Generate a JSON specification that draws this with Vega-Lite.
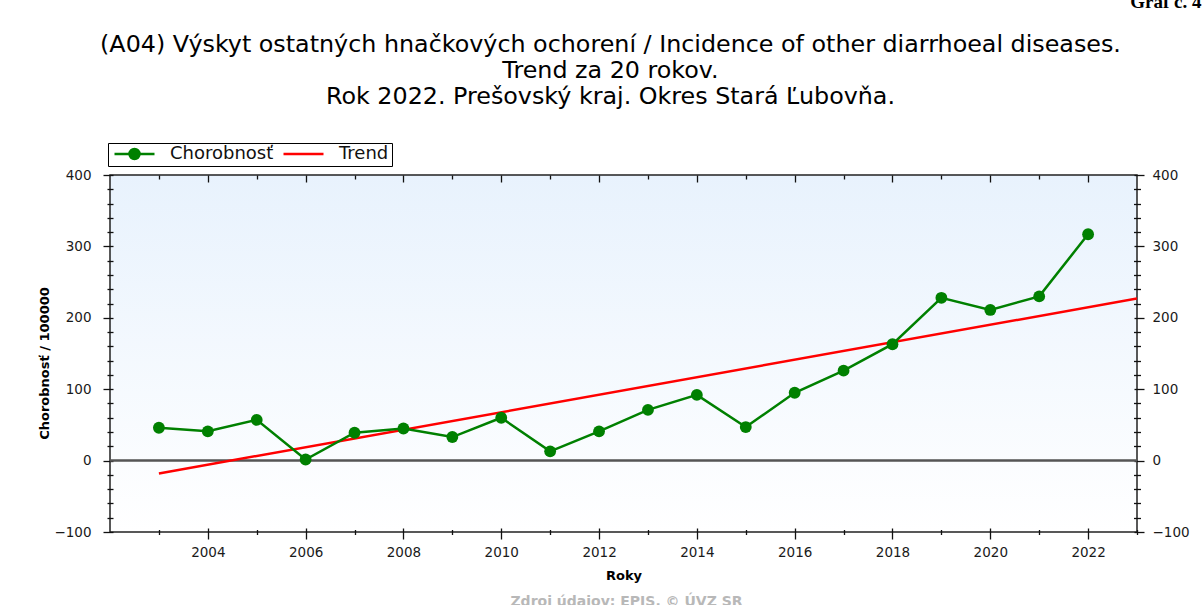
{
  "$schema": "https://vega.github.io/schema/vega-lite/v6.json",
  "width": 1027,
  "height": 357,
  "autosize": "none",
  "padding": {"left": 110, "top": 175, "right": 66, "bottom": 73},
  "background": "#ffffff",
  "title": {
    "text": ["(A04) Výskyt ostatných hnačkových ochorení / Incidence of other diarrhoeal diseases.", "Trend za 20 rokov.", "Rok 2022. Prešovský kraj. Okres Stará Ľubovňa."],
    "font": "DejaVu Sans",
    "fontSize": 23.8,
    "fontWeight": "normal",
    "color": "#000000",
    "lineHeight": 26,
    "anchor": "middle",
    "frame": "group",
    "baseline": "top",
    "offset": 0,
    "dx": -13,
    "dy": 117
  },
  "datasets": {
    "incidence": [
      {"year": 2003, "value": 46, "series": "Chorobnosť"},
      {"year": 2004, "value": 41, "series": "Chorobnosť"},
      {"year": 2005, "value": 57, "series": "Chorobnosť"},
      {"year": 2006, "value": 1.5, "series": "Chorobnosť"},
      {"year": 2007, "value": 39, "series": "Chorobnosť"},
      {"year": 2008, "value": 45, "series": "Chorobnosť"},
      {"year": 2009, "value": 33, "series": "Chorobnosť"},
      {"year": 2010, "value": 60, "series": "Chorobnosť"},
      {"year": 2011, "value": 13, "series": "Chorobnosť"},
      {"year": 2012, "value": 41, "series": "Chorobnosť"},
      {"year": 2013, "value": 71, "series": "Chorobnosť"},
      {"year": 2014, "value": 92, "series": "Chorobnosť"},
      {"year": 2015, "value": 47, "series": "Chorobnosť"},
      {"year": 2016, "value": 95, "series": "Chorobnosť"},
      {"year": 2017, "value": 126, "series": "Chorobnosť"},
      {"year": 2018, "value": 163, "series": "Chorobnosť"},
      {"year": 2019, "value": 228, "series": "Chorobnosť"},
      {"year": 2020, "value": 211, "series": "Chorobnosť"},
      {"year": 2021, "value": 230, "series": "Chorobnosť"},
      {"year": 2022, "value": 317, "series": "Chorobnosť"}
    ],
    "trend": [
      {"year": 2003, "value": -18, "series": "Trend"},
      {"year": 2023, "value": 227, "series": "Trend"}
    ]
  },
  "config": {
    "view": {
      "fill": {"gradient": "linear", "x1": 0, "y1": 0, "x2": 0, "y2": 1, "stops": [{"offset": 0, "color": "#e8f2fd"}, {"offset": 1, "color": "#ffffff"}]},
      "stroke": "#222222",
      "strokeWidth": 1.5
    },
    "axis": {
      "grid": false,
      "labelFont": "DejaVu Sans",
      "labelFontSize": 13.5,
      "labelColor": "#1a1a1a",
      "tickColor": "#111111",
      "tickWidth": 1.3,
      "domain": false,
      "titleFont": "DejaVu Sans",
      "titleFontSize": 13,
      "titleFontWeight": "bold",
      "titleColor": "#000000"
    }
  },
  "resolve": {"axis": {"x": "independent", "y": "independent"}},
  "layer": [
    {
      "data": {"name": "trend"},
      "mark": {"type": "rule", "color": "#555555", "strokeWidth": 2},
      "encoding": {
        "y": {"datum": 0, "type": "quantitative", "axis": null}
      }
    },
    {
      "data": {"name": "trend"},
      "mark": {"type": "line", "strokeWidth": 2.5, "clip": true},
      "encoding": {
        "x": {
          "field": "year", "type": "quantitative",
          "scale": {"domain": [2002, 2023], "nice": false, "zero": false},
          "axis": {"orient": "bottom", "values": [2004, 2006, 2008, 2010, 2012, 2014, 2016, 2018, 2020, 2022], "format": "d", "tickSize": 11, "offset": -4, "labelPadding": 6, "title": "Roky", "titlePadding": 11}
        },
        "y": {
          "field": "value", "type": "quantitative",
          "scale": {"domain": [-100, 400], "nice": false, "zero": false},
          "axis": {"orient": "left", "values": [-100, 0, 100, 200, 300, 400], "tickSize": 10, "offset": -3, "labelPadding": 12, "title": "Chorobnosť / 100000", "titlePadding": 2, "titleY": 188}
        },
        "color": {
          "field": "series", "type": "nominal",
          "scale": {"domain": ["Chorobnosť", "Trend"], "range": ["#008000", "#ff0000"]},
          "legend": {
            "orient": "none", "legendX": -2, "legendY": -32, "direction": "horizontal", "columns": 2, "title": null,
            "strokeColor": "#000000", "fillColor": "#ffffff", "padding": 3,
            "symbolType": "M-1,0H1", "symbolSize": 1600, "symbolStrokeWidth": 2.5, "clipHeight": 16,
            "symbolOffset": 2,
            "labelFont": "DejaVu Sans", "labelFontSize": 18, "labelColor": "#111111", "labelOffset": 14,
            "columnPadding": 6, "gridAlign": "all",
            "encode": {
              "symbols": {
                "update": {
                  "shape": {"signal": "datum.value === 'Trend' ? 'M-1,0H1' : 'M-1,0H1M-0.25,0A0.25,0.25,0,1,1,0.25,0A0.25,0.25,0,1,1,-0.25,0'"},
                  "fill": {"signal": "datum.value === 'Trend' ? 'transparent' : '#008000'"}
                }
              }
            }
          }
        }
      }
    },
    {
      "data": {"name": "incidence"},
      "mark": {"type": "line", "strokeWidth": 2.5},
      "encoding": {
        "x": {
          "field": "year", "type": "quantitative",
          "axis": {"orient": "bottom", "values": [2003, 2005, 2007, 2009, 2011, 2013, 2015, 2017, 2019, 2021, 2023], "labels": false, "tickSize": 5, "offset": -2.5, "title": "Zdroj údajov: EPIS, © ÚVZ SR", "titleColor": "#b8b8b8", "titleFontSize": 14, "titleX": 516, "titleY": 72, "titleAlign": "center", "titleBaseline": "middle"}
        },
        "y": {
          "field": "value", "type": "quantitative",
          "axis": {"orient": "left", "values": [-80, -60, -40, -20, 20, 40, 60, 80, 120, 140, 160, 180, 220, 240, 260, 280, 320, 340, 360, 380], "labels": false, "tickSize": 6, "offset": -3, "title": null}
        },
        "color": {
          "field": "series", "type": "nominal",
          "scale": {"domain": ["Chorobnosť", "Trend"], "range": ["#008000", "#ff0000"]},
          "legend": {
            "orient": "none", "legendX": -2, "legendY": -32, "direction": "horizontal", "columns": 2, "title": null,
            "strokeColor": "#000000", "fillColor": "#ffffff", "padding": 3,
            "symbolType": "M-1,0H1", "symbolSize": 1600, "symbolStrokeWidth": 2.5, "clipHeight": 16,
            "symbolOffset": 2,
            "labelFont": "DejaVu Sans", "labelFontSize": 18, "labelColor": "#111111", "labelOffset": 14,
            "columnPadding": 6, "gridAlign": "all",
            "encode": {
              "symbols": {
                "update": {
                  "shape": {"signal": "datum.value === 'Trend' ? 'M-1,0H1' : 'M-1,0H1M-0.25,0A0.25,0.25,0,1,1,0.25,0A0.25,0.25,0,1,1,-0.25,0'"},
                  "fill": {"signal": "datum.value === 'Trend' ? 'transparent' : '#008000'"}
                }
              }
            }
          }
        }
      }
    },
    {
      "data": {"name": "incidence"},
      "mark": {"type": "point", "filled": true, "size": 140, "color": "#008000", "opacity": 1},
      "encoding": {
        "x": {
          "field": "year", "type": "quantitative",
          "axis": {"orient": "top", "values": [2004, 2006, 2008, 2010, 2012, 2014, 2016, 2018, 2020, 2022], "labels": false, "tickSize": 7, "offset": -7, "title": "Graf č. 4", "titleFont": "Liberation Serif", "titleFontSize": 19, "titleFontWeight": "bold", "titleX": 1091, "titleY": -175, "titleAlign": "right", "titleBaseline": "alphabetic"}
        },
        "y": {
          "field": "value", "type": "quantitative",
          "axis": {"orient": "right", "values": [-100, 0, 100, 200, 300, 400], "tickSize": 10, "offset": -3, "labelPadding": 8, "title": null}
        }
      }
    },
    {
      "data": {"name": "incidence"},
      "mark": {"type": "point", "opacity": 0},
      "encoding": {
        "x": {
          "field": "year", "type": "quantitative",
          "axis": {"orient": "top", "values": [2003, 2005, 2007, 2009, 2011, 2013, 2015, 2017, 2019, 2021], "labels": false, "tickSize": 4, "offset": -4, "title": null}
        },
        "y": {
          "field": "value", "type": "quantitative",
          "axis": {"orient": "right", "values": [-80, -60, -40, -20, 20, 40, 60, 80, 120, 140, 160, 180, 220, 240, 260, 280, 320, 340, 360, 380], "labels": false, "tickSize": 7, "offset": -3.5, "title": null}
        }
      }
    }
  ]
}
